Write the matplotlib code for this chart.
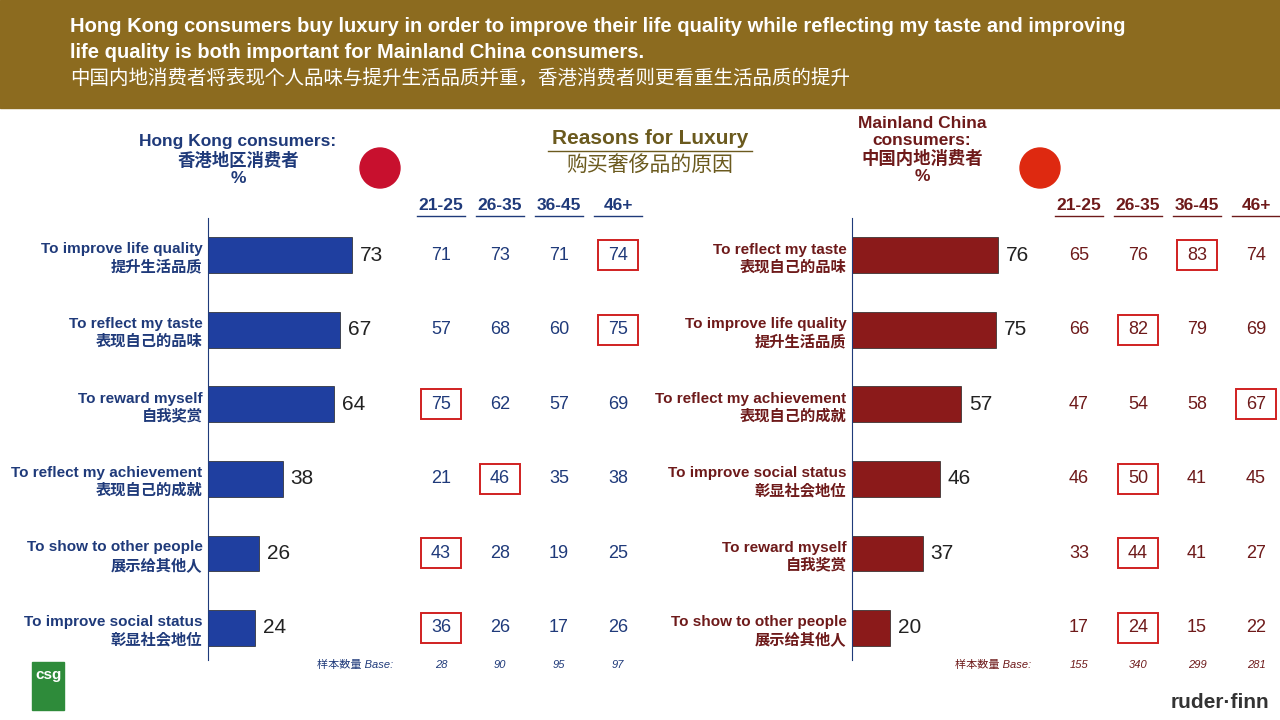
import matplotlib
matplotlib.use("Agg")
import matplotlib.pyplot as plt
from matplotlib.patches import Rectangle, Ellipse
from matplotlib import font_manager

names = {f.name for f in font_manager.fontManager.ttflist}
cjk = [n for n in ["Noto Sans CJK SC", "Noto Sans CJK JP", "Noto Sans CJK TC", "Noto Sans SC"] if n in names]
plt.rcParams['font.family'] = ['Liberation Sans'] + cjk + ['DejaVu Sans']

hk_labels = ["To improve life quality\n提升生活品质", "To reflect my taste\n表现自己的品味", "To reward myself\n自我奖赏",
             "To reflect my achievement\n表现自己的成就", "To show to other people\n展示给其他人", "To improve social status\n彰显社会地位"]
hk_values = [73, 67, 64, 38, 26, 24]
hk_ages = [[71, 73, 71, 74], [57, 68, 60, 75], [75, 62, 57, 69], [21, 46, 35, 38], [43, 28, 19, 25], [36, 26, 17, 26]]
hk_box = [3, 3, 0, 1, 0, 0]
hk_base = [28, 90, 95, 97]

cn_labels = ["To reflect my taste\n表现自己的品味", "To improve life quality\n提升生活品质", "To reflect my achievement\n表现自己的成就",
             "To improve social status\n彰显社会地位", "To reward myself\n自我奖赏", "To show to other people\n展示给其他人"]
cn_values = [76, 75, 57, 46, 37, 20]
cn_ages = [[65, 76, 83, 74], [66, 82, 79, 69], [47, 54, 58, 67], [46, 50, 41, 45], [33, 44, 41, 27], [17, 24, 15, 22]]
cn_box = [2, 1, 3, 1, 1, 1]
cn_base = [155, 340, 299, 281]
age_groups = ["21-25", "26-35", "36-45", "46+"]

W, H = 1280, 720
fig = plt.figure(figsize=(12.8, 7.2), dpi=100)
def fx(x): return x / W
def fy(y): return 1 - y / H

fig.patches.append(Rectangle((0, fy(108)), 1, 108 / H, transform=fig.transFigure, color="#8C6B1F", zorder=0))
fig.text(fx(70), fy(27), "Hong Kong consumers buy luxury in order to improve their life quality while reflecting my taste and improving",
         color="white", fontsize=14.5, fontweight="bold", va="center")
fig.text(fx(70), fy(53), "life quality is both important for Mainland China consumers.", color="white", fontsize=14.5, fontweight="bold", va="center")
fig.text(fx(70), fy(79), "中国内地消费者将表现个人品味与提升生活品质并重，香港消费者则更看重生活品质的提升", color="white", fontsize=14, va="center")

fig.text(fx(650), fy(139), "Reasons for Luxury", color="#6B5A1E", fontsize=15, fontweight="bold", ha="center", va="center")
fig.lines.append(plt.Line2D([fx(548), fx(752)], [fy(151), fy(151)], transform=fig.transFigure, color="#6B5A1E", lw=1))
fig.text(fx(650), fy(165), "购买奢侈品的原因", color="#6B5A1E", fontsize=15, ha="center", va="center")

fig.text(fx(238), fy(160), "Hong Kong consumers:\n香港地区消费者\n%", color="#1F3A7A", fontsize=12.5, fontweight="bold", ha="center", va="center", linespacing=1.2)
fig.text(fx(922), fy(150), "Mainland China\nconsumers:\n中国内地消费者\n%", color="#6E1A1A", fontsize=12.5, fontweight="bold", ha="center", va="center", linespacing=1.15)
for cx, col in [(380, "#C8102E"), (1040, "#DE2910")]:
    fig.patches.append(Ellipse((fx(cx), fy(168)), 40 / W, 40 / H, transform=fig.transFigure, color=col, zorder=2))

def panel(x0, x1, labels, values, ages, box, base, ages_x, color, tcolor):
    ax = fig.add_axes([fx(x0), fy(660), fx(x1 - x0), (660 - 218) / H])
    rows = list(range(len(values)))
    ax.barh(rows, values, height=0.48, color=color, edgecolor="#222", linewidth=0.5)
    ax.set_xlim(0, 100)
    ax.set_ylim(5.43, -0.5)
    for s in ["top", "right", "bottom"]:
        ax.spines[s].set_visible(False)
    ax.spines["left"].set_color("#1F3A7A")
    ax.set_xticks([])
    ax.set_yticks(rows)
    ax.set_yticklabels(labels, fontsize=11, fontweight="bold", color=tcolor, linespacing=1.3)
    ax.tick_params(axis="y", length=0, pad=4)
    for r, v in zip(rows, values):
        ax.text(v + 4, r, str(v), va="center", fontsize=15, color="#222")
    for r in rows:
        yp = 255 + 74.6 * r
        for j, xa in enumerate(ages_x):
            fig.text(fx(xa), fy(yp), str(ages[r][j]), ha="center", va="center", fontsize=13, color=tcolor)
        xb = ages_x[box[r]]
        fig.patches.append(Rectangle((fx(xb - 20), fy(yp + 15)), 40 / W, 30 / H, transform=fig.transFigure, fill=False, ec="#D02020", lw=1.4))
    for j, xa in enumerate(ages_x):
        fig.text(fx(xa), fy(206), age_groups[j], ha="center", va="center", fontsize=12.5, fontweight="bold", color=tcolor)
        fig.lines.append(plt.Line2D([fx(xa - 24), fx(xa + 24)], [fy(216), fy(216)], transform=fig.transFigure, color=tcolor, lw=1))
        fig.text(fx(xa), fy(665), str(base[j]), ha="center", va="center", fontsize=8, style="italic", color=tcolor)
    fig.text(fx(ages_x[0] - 48), fy(665), "样本数量 Base:", ha="right", va="center", fontsize=8, style="italic", color=tcolor)

panel(208, 405, hk_labels, hk_values, hk_ages, hk_box, hk_base, [441, 500, 559, 618], "#1F3FA0", "#1F3A7A")
panel(852, 1044, cn_labels, cn_values, cn_ages, cn_box, cn_base, [1079, 1138, 1197, 1256], "#8B1A1A", "#6E1A1A")

fig.patches.append(Rectangle((fx(32), fy(710)), 32 / W, 48 / H, transform=fig.transFigure, color="#2E8B3A"))
fig.text(fx(48), fy(675), "csg", color="white", fontsize=11, fontweight="bold", ha="center", va="center")
fig.text(fx(1220), fy(702), "ruder·finn", color="#333", fontsize=15, fontweight="bold", ha="center", va="center")

fig.savefig("out.png", dpi=100)
